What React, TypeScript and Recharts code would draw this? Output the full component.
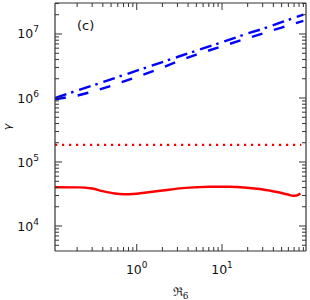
import React from 'react';
import { LineChart, Line, XAxis, YAxis } from 'recharts';

// ---- data ----
const xBlue = [0.11, 0.2, 0.3, 0.5, 1, 2, 3, 5, 10, 20, 30, 50, 90];
const gammaDashed = [9.5e5, 1.09e6, 1.25e6, 1.55e6, 2.13e6, 2.99e6, 3.72e6, 4.78e6, 6.43e6, 8.6e6, 1.02e7, 1.26e7, 1.6e7];
const gammaDashDot = [1.0e6, 1.31e6, 1.56e6, 1.96e6, 2.67e6, 3.65e6, 4.37e6, 5.48e6, 7.46e6, 1.02e7, 1.2e7, 1.53e7, 2.0e7];

const xDotted = [0.11, 85];
const gammaDotted = [1.85e5, 1.85e5];

const xSolid = [0.11, 0.2, 0.3, 0.4, 0.55, 0.7, 0.9, 1.3, 2, 3.2, 5, 7.2, 12, 19.6, 28, 36.6, 50, 62, 68, 75, 83];
const gammaSolid = [4.03e4, 4.02e4, 3.85e4, 3.5e4, 3.22e4, 3.13e4, 3.16e4, 3.34e4, 3.58e4, 3.88e4, 4.03e4, 4.11e4, 4.1e4, 3.97e4, 3.78e4, 3.56e4, 3.28e4, 3.05e4, 2.97e4, 3.0e4, 3.24e4];

const xDomain = [0.11, 96.6];
const yDomain = [4.07e3, 3.05e7];
const xTicks = [0.2, 0.3, 0.4, 0.5, 0.6, 0.7, 0.8, 0.9, 1, 2, 3, 4, 5, 6, 7, 8, 9, 10, 20, 30, 40, 50, 60, 70, 80, 90];
const yTicks = [
  5e3, 6e3, 7e3, 8e3, 9e3, 1e4,
  2e4, 3e4, 4e4, 5e4, 6e4, 7e4, 8e4, 9e4, 1e5,
  2e5, 3e5, 4e5, 5e5, 6e5, 7e5, 8e5, 9e5, 1e6,
  2e6, 3e6, 4e6, 5e6, 6e6, 7e6, 8e6, 9e6, 1e7,
  2e7, 3e7,
];
const panelLabel = '(c)';
const xLabel = 'ℜ';
const xLabelSub = '6';
const yLabel = 'γ';

const toSeries = (xs: number[], ys: number[]) => xs.map((x, i) => ({ x, y: ys[i] }));
const dashedData = toSeries(xBlue, gammaDashed);
const dashDotData = toSeries(xBlue, gammaDashDot);
const dottedData = toSeries(xDotted, gammaDotted);
const solidData = toSeries(xSolid, gammaSolid);

const AXIS = '#333';
const FONT = 'DejaVu Sans, sans-serif';

const isMajor = (v: number) => {
  const l = Math.log10(v);
  return Math.abs(l - Math.round(l)) < 1e-6;
};

const makeTick = (side: 'bottom' | 'left' | 'top' | 'right') => (props: any) => {
  const { x, y, payload } = props;
  const v = payload.value;
  const major = isMajor(v);
  const len = major ? 7 : 4;
  let line;
  if (side === 'bottom') line = <line x1={x} y1={y} x2={x} y2={y - len} stroke={AXIS} strokeWidth={1} />;
  else if (side === 'top') line = <line x1={x} y1={y} x2={x} y2={y + len} stroke={AXIS} strokeWidth={1} />;
  else if (side === 'left') line = <line x1={x} y1={y} x2={x + len} y2={y} stroke={AXIS} strokeWidth={1} />;
  else line = <line x1={x} y1={y} x2={x - len} y2={y} stroke={AXIS} strokeWidth={1} />;
  let label = null;
  if (major && (side === 'bottom' || side === 'left')) {
    const exp = Math.round(Math.log10(v));
    if (side === 'bottom') {
      label = (
        <text x={x} y={y + 23} textAnchor="middle" fontFamily={FONT} fontSize={12.5} fill="#111">
          <tspan>10</tspan>
          <tspan fontSize={9} dy={-6}>{exp}</tspan>
        </text>
      );
    } else {
      label = (
        <text x={x - 16} y={y + 4.5} textAnchor="end" fontFamily={FONT} fontSize={12.5} fill="#111">
          <tspan>10</tspan>
          <tspan fontSize={9} dy={-6}>{exp}</tspan>
        </text>
      );
    }
  }
  return (
    <g>
      {line}
      {label}
    </g>
  );
};

const XLabel = (props: any) => {
  const vb = props.viewBox || {};
  const cx = vb.x + vb.width / 2;
  return (
    <text x={cx} y={296} textAnchor="middle" fontFamily="DejaVu Serif, serif" fontSize={12} fill="#111">
      <tspan>{xLabel}</tspan>
      <tspan fontSize={9} dy={3}>{xLabelSub}</tspan>
    </text>
  );
};

const YLabel = (props: any) => {
  const vb = props.viewBox || {};
  const cy = vb.y + vb.height / 2;
  return (
    <text x={11} y={cy} textAnchor="middle" transform={`rotate(-90, 11, ${cy})`} fontFamily={FONT} fontStyle="italic" fontSize={11} fill="#111">
      {yLabel}
    </text>
  );
};

const PanelLabel = (props: any) => {
  const vb = props.viewBox || {};
  return (
    <text x={vb.x + 22} y={vb.y + vb.height + 27} fontFamily={FONT} fontSize={13} fill="#111">
      {panelLabel}
    </text>
  );
};

export default function App() {
  return (
    <div style={{ position: 'absolute', left: 0, top: 0, background: '#fff' }}>
      <LineChart width={310} height={300} margin={{ top: 2, right: 3, bottom: 0, left: 0 }}>
        <XAxis
          dataKey="x"
          type="number"
          scale="log"
          domain={xDomain}
          allowDataOverflow
          ticks={xTicks}
          interval={0}
          height={49}
          tickSize={0}
          tickMargin={0}
          tickLine={false}
          axisLine={{ stroke: AXIS, strokeWidth: 1.2 }}
          tick={makeTick('bottom')}
          label={XLabel}
        />
        <XAxis
          xAxisId="top"
          orientation="top"
          dataKey="x"
          type="number"
          scale="log"
          domain={xDomain}
          allowDataOverflow
          ticks={xTicks}
          interval={0}
          height={1}
          tickSize={0}
          tickMargin={0}
          tickLine={false}
          axisLine={{ stroke: AXIS, strokeWidth: 1.2 }}
          tick={makeTick('top')}
          label={PanelLabel}
        />
        <YAxis
          dataKey="y"
          type="number"
          scale="log"
          domain={yDomain}
          allowDataOverflow
          ticks={yTicks}
          interval={0}
          width={55}
          tickSize={0}
          tickMargin={0}
          tickLine={false}
          axisLine={{ stroke: AXIS, strokeWidth: 1.2 }}
          tick={makeTick('left')}
          label={YLabel}
        />
        <YAxis
          yAxisId="right"
          orientation="right"
          dataKey="y"
          type="number"
          scale="log"
          domain={yDomain}
          allowDataOverflow
          ticks={yTicks}
          interval={0}
          width={1}
          tickSize={0}
          tickMargin={0}
          tickLine={false}
          axisLine={{ stroke: AXIS, strokeWidth: 1.2 }}
          tick={makeTick('right')}
        />
        <Line data={dashDotData} dataKey="y" type="linear" stroke="#0000ff" strokeWidth={2.4} strokeDasharray="12 5 2.5 6" dot={false} isAnimationActive={false} />
        <Line data={dashedData} dataKey="y" type="linear" stroke="#0000ff" strokeWidth={2.4} strokeDasharray="11 12" dot={false} isAnimationActive={false} />
        <Line data={dottedData} xAxisId="top" yAxisId="right" dataKey="y" type="linear" stroke="#ff0000" strokeWidth={2.2} strokeDasharray="2.2 4.8" dot={false} isAnimationActive={false} />
        <Line data={solidData} dataKey="y" type="monotone" stroke="#ff0000" strokeWidth={2.4} dot={false} isAnimationActive={false} />
      </LineChart>
    </div>
  );
}
